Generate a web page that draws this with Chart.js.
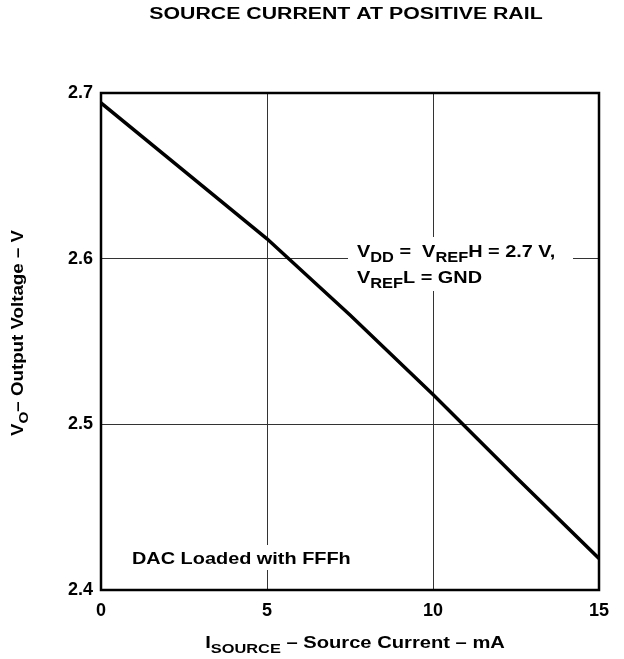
<!DOCTYPE html>
<html>
<head>
<meta charset="utf-8">
<script src="https://cdn.jsdelivr.net/npm/chart.js@4/dist/chart.umd.min.js"></script>
<style>
  html, body { margin: 0; padding: 0; background: #fff; }
  canvas { display: block; }
</style>
</head>
<body>
<canvas id="chart" width="624" height="659"></canvas>
<script>
// source current vs output voltage
const currentMA = [0, 2.5, 5, 7.5, 10, 12.5, 15];
const outputV = [2.694, 2.653, 2.612, 2.566, 2.518, 2.468, 2.419];
const xTickValues = [0, 5, 10, 15];
const yTickValues = [2.4, 2.5, 2.6, 2.7];

const FONT = '"Liberation Sans", Arial, sans-serif';

// draws a run of text pieces, some as subscripts, stretched sideways by sx
function drawRich(ctx, parts, x, y, size, sx, align) {
    const subSize = Math.round(size * 0.82);
    let total = 0;
    parts.forEach(p => {
        ctx.font = 'bold ' + (p.sub ? subSize : size) + 'px ' + FONT;
        total += ctx.measureText(p.t).width;
    });
    ctx.save();
    ctx.translate(x, y);
    ctx.scale(sx, 1);
    let cx = align === 'center' ? -total / 2 : 0;
    ctx.fillStyle = '#000';
    ctx.textBaseline = 'alphabetic';
    ctx.textAlign = 'left';
    parts.forEach(p => {
        ctx.font = 'bold ' + (p.sub ? subSize : size) + 'px ' + FONT;
        ctx.fillText(p.t, cx, p.sub ? 5 : 0);
        cx += ctx.measureText(p.t).width;
    });
    ctx.restore();
}

const decorations = {
    id: 'decorations',
    afterDatasetsDraw(chart) {
        const ctx = chart.ctx;
        const a = chart.chartArea;

        // white patches behind the notes
        ctx.fillStyle = '#fff';
        ctx.fillRect(348, 237, 225, 54);
        ctx.fillRect(126, 545, 230, 25);

        // frame
        ctx.save();
        ctx.strokeStyle = '#000';
        ctx.lineWidth = 2.5;
        ctx.strokeRect(a.left, a.top, a.right - a.left, a.bottom - a.top);
        ctx.restore();

        drawRich(ctx, [{t: 'SOURCE CURRENT AT POSITIVE RAIL'}], 346, 19, 16, 1.33, 'center');

        drawRich(ctx, [{t: 'V'}, {t: 'DD', sub: true}, {t: ' =  V'}, {t: 'REF', sub: true}, {t: 'H = 2.7 V,'}],
            357, 257, 17, 1.17, 'left');
        drawRich(ctx, [{t: 'V'}, {t: 'REF', sub: true}, {t: 'L = GND'}], 357, 283, 17, 1.17, 'left');

        drawRich(ctx, [{t: 'DAC Loaded with FFFh'}], 132, 564, 17, 1.17, 'left');

        drawRich(ctx, [{t: 'I'}, {t: 'SOURCE', sub: true}, {t: ' – Source Current – mA'}],
            355, 648, 16, 1.26, 'center');

        ctx.save();
        ctx.translate(23, 333);
        ctx.rotate(-Math.PI / 2);
        drawRich(ctx, [{t: 'V'}, {t: 'O', sub: true}, {t: '– Output Voltage – V'}], 0, 0, 16, 1.17, 'center');
        ctx.restore();
    }
};

const tickFont = {family: FONT, size: 18, weight: 'bold'};

new Chart(document.getElementById('chart'), {
    type: 'line',
    data: {
        datasets: [{
            data: currentMA.map((x, i) => ({x: x, y: outputV[i]})),
            borderColor: '#000',
            borderWidth: 3.5,
            pointRadius: 0,
            tension: 0,
            fill: false
        }]
    },
    options: {
        responsive: false,
        animation: false,
        devicePixelRatio: 1,
        layout: {padding: {top: 93, right: 25, left: 0, bottom: 0}},
        plugins: {legend: {display: false}, tooltip: {enabled: false}, title: {display: false}},
        scales: {
            x: {
                type: 'linear', min: 0, max: 15,
                afterBuildTicks: s => { s.ticks = xTickValues.map(v => ({value: v})); },
                afterFit: s => { s.height = 69; },
                ticks: {font: tickFont, color: '#000', padding: 10, maxRotation: 0, callback: v => String(v)},
                grid: {color: '#333', lineWidth: 1, drawTicks: false},
                border: {display: false}
            },
            y: {
                type: 'linear', min: 2.4, max: 2.7,
                afterBuildTicks: s => { s.ticks = yTickValues.map(v => ({value: v})); },
                afterFit: s => { s.width = 101; },
                ticks: {font: tickFont, color: '#000', padding: 8, callback: v => v.toFixed(1)},
                grid: {color: '#333', lineWidth: 1, drawTicks: false},
                border: {display: false}
            }
        }
    },
    plugins: [decorations]
});
</script>
</body>
</html>
